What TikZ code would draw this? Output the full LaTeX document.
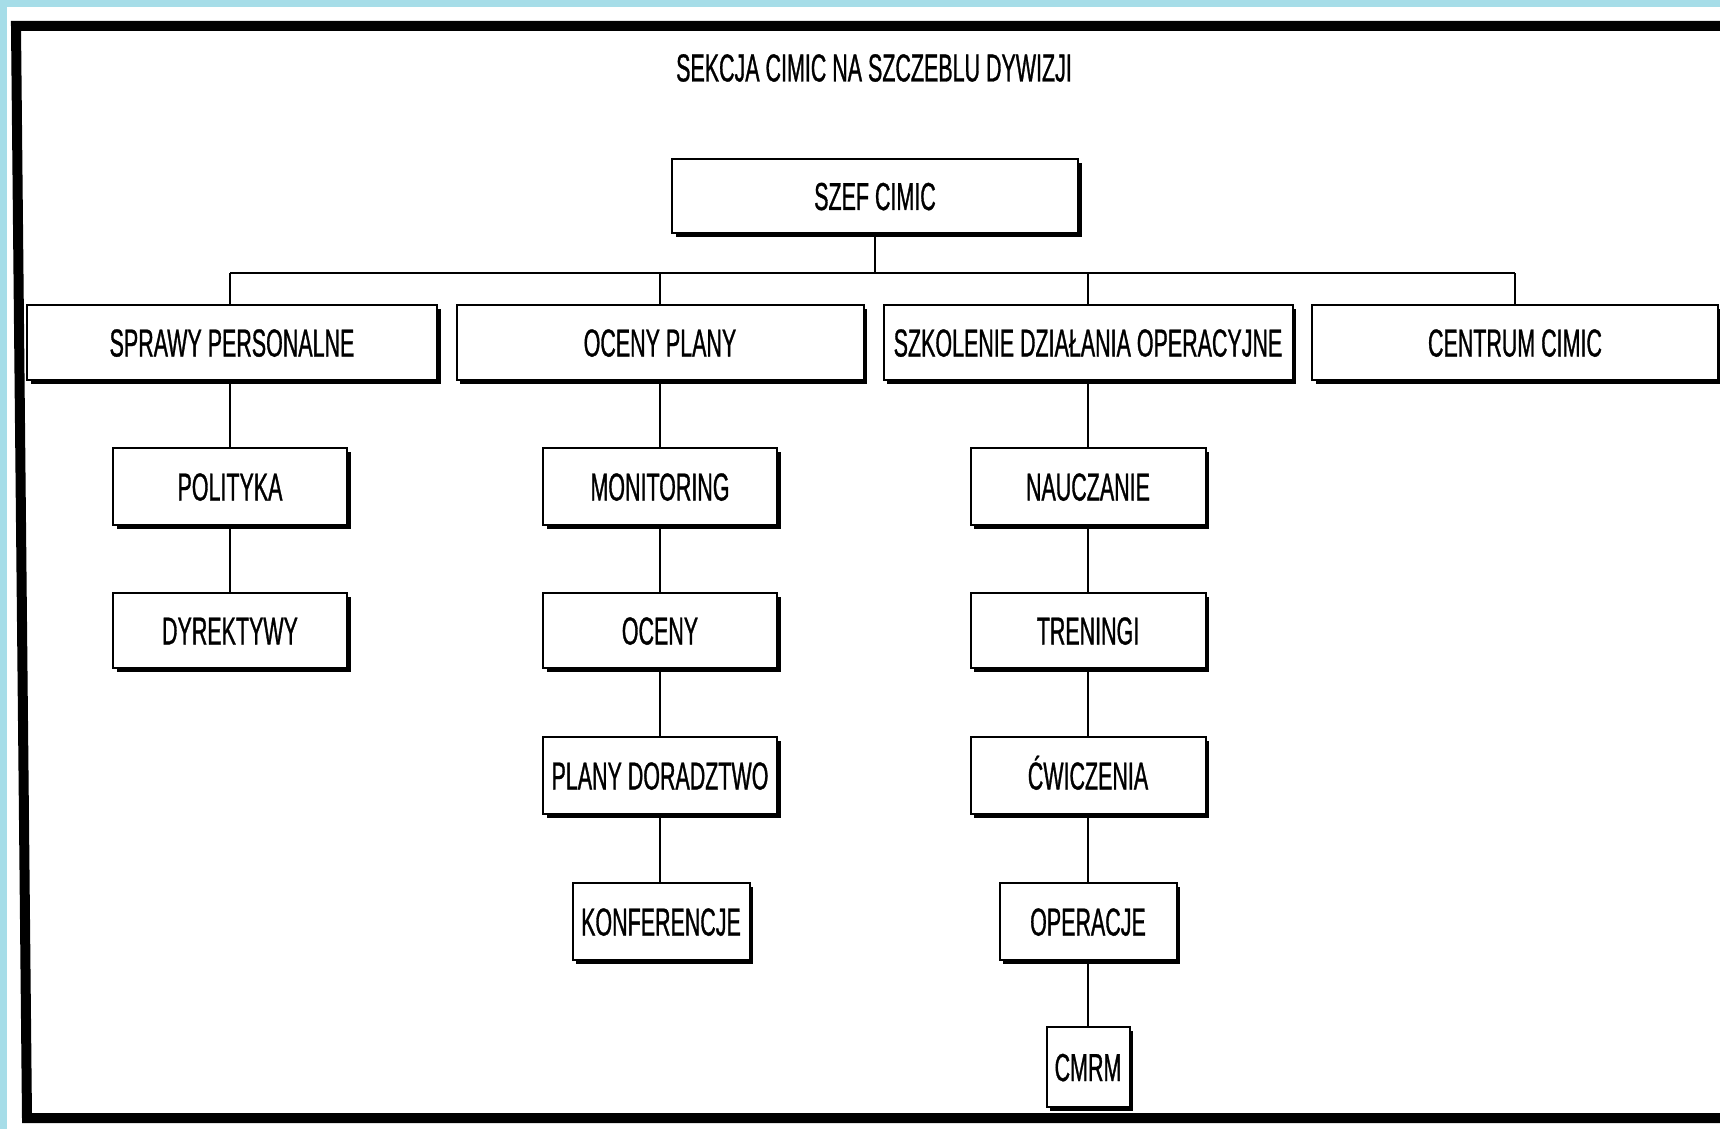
\documentclass[tikz,border=0pt]{standalone}
\usepackage{fontspec}
\setmainfont[FakeStretch=0.55, FakeBold=0.8]{Liberation Sans}
\usetikzlibrary{shadows}
\definecolor{scanbg}{HTML}{A6DDE8}
\tikzset{
  orgbox/.style={draw=black, line width=1pt, fill=white, inner sep=0pt,
    font=\fontsize{19.5}{23}\selectfont, text height=14pt, text depth=0pt,
    drop shadow={shadow xshift=1.8pt, shadow yshift=-2pt, fill=black, opacity=1}},
  link/.style={draw=black, line width=0.9pt},
  frameline/.style={draw=black, line width=5pt, line join=miter}
}
\begin{document}
\begin{tikzpicture}[x=0.5pt, y=-0.5pt]
\useasboundingbox (0,0) rectangle (1720,1129);
\fill[scanbg] (0,0) rectangle (1720,7);
\fill[scanbg] (0,0) rectangle (7,1129);
% frame
\draw[frameline] (1725,26) -- (16,26) -- (27,1118) -- (1725,1118);
% title
\node[font=\fontsize{19.5}{23}\selectfont] (title) at (874,68) {SEKCJA CIMIC NA SZCZEBLU DYWIZJI};
% top
\node[orgbox, minimum width=203pt, minimum height=37pt] (szef) at (875,196) {SZEF CIMIC};
% level 2
\node[orgbox, minimum width=205pt, minimum height=37.5pt] (sprawy) at (232,342.5) {SPRAWY PERSONALNE};
\node[orgbox, minimum width=203.5pt, minimum height=37.5pt] (ocenyplany) at (660,342.5) {OCENY PLANY};
\node[orgbox, minimum width=204.5pt, minimum height=37.5pt] (szkolenie) at (1088,342.5) {SZKOLENIE DZIAŁANIA OPERACYJNE};
\node[orgbox, minimum width=203pt, minimum height=37.5pt] (centrum) at (1515,342.5) {CENTRUM CIMIC};
% column 1
\node[orgbox, minimum width=117pt, minimum height=38.5pt] (polityka) at (230,486.5) {POLITYKA};
\node[orgbox, minimum width=117pt, minimum height=37.5pt] (dyrektywy) at (230,630.5) {DYREKTYWY};
% column 2
\node[orgbox, minimum width=117pt, minimum height=38.5pt] (monitoring) at (660,486.5) {MONITORING};
\node[orgbox, minimum width=117pt, minimum height=37.5pt] (oceny) at (660,630.5) {OCENY};
\node[orgbox, minimum width=117pt, minimum height=38.5pt] (plany) at (660,775.5) {PLANY DORADZTWO};
\node[orgbox, minimum width=88.5pt, minimum height=38.5pt] (konferencje) at (661,921.5) {KONFERENCJE};
% column 3
\node[orgbox, minimum width=117.5pt, minimum height=38.5pt] (nauczanie) at (1088,486.5) {NAUCZANIE};
\node[orgbox, minimum width=117.5pt, minimum height=37.5pt] (treningi) at (1088,630.5) {TRENINGI};
\node[orgbox, minimum width=117.5pt, minimum height=38.5pt] (cwiczenia) at (1088,775.5) {ĆWICZENIA};
\node[orgbox, minimum width=88.5pt, minimum height=38.5pt] (operacje) at (1088,921.5) {OPERACJE};
\node[orgbox, minimum width=41.5pt, minimum height=40pt] (cmrm) at (1088,1067) {CMRM};
% bus
\coordinate (busL) at (230,273);
\coordinate (busR) at (1515,273);
\draw[link] (busL) -- (busR);
\draw[link] (szef.south) -- (szef.south |- busL);
\draw[link] (sprawy.north -| busL) -- (busL);
\foreach \n in {ocenyplany,szkolenie,centrum}
  \draw[link] (\n.north) -- (\n.north |- busL);
% chains (vertical, from child up to parent)
\draw[link] (polityka.north) -- (polityka.north |- sprawy.south);
\draw[link] (dyrektywy.north) -- (dyrektywy.north |- polityka.south);
\draw[link] (monitoring.north) -- (monitoring.north |- ocenyplany.south);
\draw[link] (oceny.north) -- (oceny.north |- monitoring.south);
\draw[link] (plany.north) -- (plany.north |- oceny.south);
\draw[link] (konferencje.north -| plany.south) -- (plany.south);
\draw[link] (nauczanie.north) -- (nauczanie.north |- szkolenie.south);
\draw[link] (treningi.north) -- (treningi.north |- nauczanie.south);
\draw[link] (cwiczenia.north) -- (cwiczenia.north |- treningi.south);
\draw[link] (operacje.north) -- (operacje.north |- cwiczenia.south);
\draw[link] (cmrm.north) -- (cmrm.north |- operacje.south);
\end{tikzpicture}
\end{document}
